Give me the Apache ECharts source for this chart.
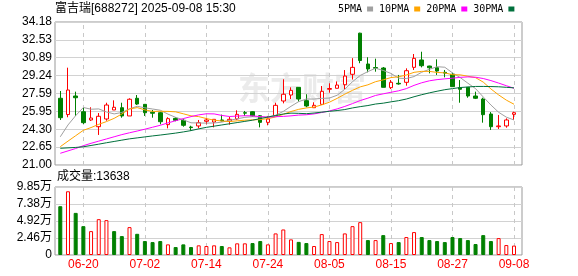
<!DOCTYPE html>
<html><head><meta charset="utf-8">
<script src="https://cdn.jsdelivr.net/npm/echarts@6/dist/echarts.min.js"></script>
<style>html,body{margin:0;padding:0;background:#fff}#c{width:578px;height:276px}</style>
</head><body><div id="c"></div>
<script>
const dates = ['06-17','06-18','06-19','06-20','06-23','06-24','06-25','06-26','06-27','06-30',
 '07-01','07-02','07-03','07-04','07-07','07-08','07-09','07-10','07-11','07-14',
 '07-15','07-16','07-17','07-18','07-21','07-22','07-23','07-24','07-25','07-28',
 '07-29','07-30','07-31','08-01','08-04','08-05','08-06','08-07','08-08','08-11',
 '08-12','08-13','08-14','08-15','08-18','08-19','08-20','08-21','08-22','08-25',
 '08-26','08-27','08-28','08-29','09-01','09-02','09-03','09-04','09-05','09-08'];
const opens = [27.15,25.65,27.36,25.91,25.15,24.53,25.24,26.07,26.28,25.52,
 27.15,26.59,25.86,25.82,24.72,25.30,25.12,24.50,24.60,25.03,
 24.96,25.15,25.03,25.24,25.82,25.91,25.54,24.93,25.54,26.90,
 27.45,28.16,26.93,26.28,26.59,27.98,28.07,28.40,29.36,33.15,
 30.31,29.98,29.94,28.13,28.53,28.62,30.00,30.68,30.12,29.97,
 29.54,29.36,28.13,28.16,27.36,27.08,25.70,24.53,24.60,25.67];
const closes = [25.36,27.91,27.20,24.90,25.33,25.49,26.53,26.32,25.52,27.06,
 26.62,25.82,25.77,24.99,25.27,25.12,24.66,24.45,24.90,25.15,
 25.21,25.06,25.21,25.67,25.78,25.52,24.93,25.24,26.50,27.52,
 27.88,27.08,26.44,26.50,27.79,28.05,28.37,29.20,30.00,30.63,
 29.85,29.92,28.16,28.62,28.47,29.69,30.83,30.15,29.96,29.66,
 29.47,28.22,27.98,27.36,27.15,25.64,24.53,24.60,25.15,25.82];
const lows = [25.15,25.40,25.52,24.78,25.06,23.77,25.08,26.07,25.36,25.52,
 26.53,25.52,25.36,24.75,24.38,25.03,24.53,24.16,24.38,24.75,
 24.47,25.03,24.72,25.15,25.52,25.45,24.47,24.66,25.54,26.68,
 27.08,26.84,26.32,26.28,26.59,27.67,28.07,28.00,28.88,30.38,
 29.54,29.60,28.16,28.00,28.40,28.31,29.76,30.00,29.45,29.30,
 29.08,28.22,26.74,27.20,27.08,24.90,24.23,24.32,24.44,25.15];
const highs = [27.82,29.97,27.76,26.28,26.32,25.79,26.74,26.96,26.74,27.15,
 27.45,26.59,26.07,25.91,25.40,25.40,25.27,24.62,25.15,25.36,
 25.21,25.64,25.45,26.04,25.98,25.95,25.60,25.52,26.74,28.90,
 28.16,28.19,27.52,26.78,28.28,28.53,28.70,29.75,30.85,33.19,
 30.93,30.80,30.03,28.83,29.30,29.91,31.23,31.44,30.15,30.74,
 29.76,29.51,28.83,28.16,27.76,27.20,25.88,25.61,25.30,25.91];
const volumes = [70700,92300,61000,41800,34600,51900,50500,34600,27400,40400,
 30700,20200,18700,20200,15400,11500,15400,11500,14000,13000,
 14000,13000,11100,16900,16900,17300,20200,15400,31300,37000,
 22600,19000,17300,13000,30300,20200,18700,31300,41800,47600,
 21600,21600,28800,17300,18700,26000,33200,26000,21600,20200,
 18700,26000,24500,21600,15900,28800,20200,24500,14400,13638];
const prevCloseBefore = 26.50;
const ma5 = [23.60,24.69,25.55,26.30,26.14,26.17,25.89,25.71,25.84,26.18,
 26.41,26.27,26.16,26.05,25.69,25.39,25.16,24.89,24.87,24.86,
 24.87,24.95,25.11,25.26,25.39,25.45,25.42,25.43,25.59,25.94,
 26.41,26.84,27.08,27.08,27.14,27.17,27.43,27.98,28.68,29.25,
 29.61,29.92,29.71,29.44,29.00,28.97,29.15,29.55,29.82,30.06,
 30.01,29.49,29.06,28.54,28.04,27.27,26.53,25.86,25.41,25.15];
const ma10 = [22.69,23.20,23.70,24.20,24.45,24.75,25.00,25.30,25.70,26.16,
 26.29,26.08,25.94,25.95,25.94,25.90,25.72,25.53,25.46,25.28,
 25.13,25.06,25.00,25.07,25.13,25.16,25.19,25.27,25.43,25.67,
 25.93,26.13,26.26,26.34,26.54,26.79,27.14,27.53,27.88,28.20,
 28.39,28.68,28.85,29.06,29.13,29.29,29.54,29.63,29.63,29.53,
 29.49,29.32,29.31,29.18,29.05,28.64,28.01,27.46,26.98,26.60];
const ma20 = [22.08,22.30,22.52,22.78,23.00,23.20,23.40,23.60,23.80,23.97,
 24.13,24.30,24.48,24.66,24.88,25.08,25.28,25.46,25.62,25.72,
 25.71,25.57,25.47,25.51,25.54,25.53,25.46,25.40,25.45,25.48,
 25.53,25.60,25.63,25.71,25.84,25.98,26.17,26.40,26.66,26.94,
 27.16,27.41,27.56,27.70,27.84,28.04,28.34,28.58,28.76,28.87,
 28.94,29.00,29.08,29.12,29.09,28.97,28.78,28.55,28.31,28.07];
const ma30 = [22.54,22.58,22.62,22.68,22.80,22.92,23.05,23.17,23.29,23.41,
 23.50,23.59,23.68,23.76,23.85,23.94,24.05,24.17,24.33,24.47,
 24.58,24.69,24.80,24.91,25.02,25.13,25.28,25.42,25.56,25.70,
 25.78,25.76,25.73,25.79,25.87,25.95,26.02,26.11,26.26,26.38,
 26.48,26.62,26.70,26.82,26.93,27.08,27.29,27.48,27.65,27.80,
 27.94,28.04,28.14,28.19,28.24,28.24,28.23,28.21,28.16,28.11];
const priceTicks = ['21.00','22.65','24.30','25.95','27.59','29.24','30.89','32.53','34.18'];
const volTicks = ['0','2.46万','4.92万','7.38万','9.85万'];
const labelDates = ['06-20','07-02','07-14','07-24','08-05','08-15','08-27','09-08'];
const maNames = ['5PMA','10PMA','20PMA','30PMA'];
const maColors = ['#a0a0a0','#ffa500','#ff00ff','#00703c'];
const titleText = '富吉瑞[688272] 2025-09-08 15:30';
const volLabel = '成交量';
const watermark = '东方财富';

const FONT = '"Liberation Sans", Arial, "Noto Sans CJK SC", sans-serif';
const UP = '#ff0000', DOWN = '#008000';
const pMin = parseFloat(priceTicks[0]);
const pMax = parseFloat(priceTicks[priceTicks.length - 1]);
const pStep = (pMax - pMin) / (priceTicks.length - 1);
const vMax = parseFloat(volTicks[volTicks.length - 1]) * 10000;
const vStep = vMax / (volTicks.length - 1);

const chart = echarts.init(document.getElementById('c'), null, {renderer: 'canvas'});
const maSeries = [ma5, ma10, ma20, ma30].map((arr, k) => ({
  name: maNames[k], type: 'line', xAxisIndex: 1, yAxisIndex: 1, data: arr,
  showSymbol: false, symbol: 'none', color: maColors[k],
  lineStyle: {width: 1, color: maColors[k]}, z: 3, silent: true
}));
const vLines = {
  symbol: ['none', 'none'], silent: true, z: 1, label: {show: false},
  lineStyle: {type: [4, 4], color: '#c8c8c8', width: 1},
  data: labelDates.map(d => ({xAxis: d}))
};
const option = {
  animation: false,
  backgroundColor: '#fff',
  title: [
    {text: titleText, left: 55, top: 3, padding: 0,
     textStyle: {fontSize: 12, fontWeight: 'normal', color: '#000', fontFamily: FONT}},
    {text: volLabel + ':' + volumes[volumes.length - 1], left: 57, top: 171, padding: 0,
     textStyle: {fontSize: 12, fontWeight: 'normal', color: '#000', fontFamily: FONT}}
  ],
  legend: {
    data: maNames, left: 338, top: 4, padding: 0, align: 'right', icon: 'rect',
    itemWidth: 6, itemHeight: 5, itemGap: 6, selectedMode: false,
    textStyle: {fontSize: 10, fontFamily: '"DejaVu Sans Mono", monospace', color: '#000'}
  },
  graphic: [{
    type: 'text', left: 238, top: 72, z: -1, silent: true,
    style: {text: watermark, fontSize: 32, fontWeight: 'bold', fill: '#ebebeb',
            fontFamily: '"Noto Sans CJK SC", sans-serif'}
  }],
  grid: [
    {left: 55, top: 22, width: 467, height: 143, show: true, borderColor: '#999', borderWidth: 1},
    {left: 56.45, top: 22, width: 461.4, height: 143},
    {left: 55, top: 187, width: 467, height: 68, show: true, borderColor: '#999', borderWidth: 1},
    {left: 56.45, top: 187, width: 461.4, height: 68}
  ],
  xAxis: [
    {type: 'value', gridIndex: 0, min: 0, max: 1, show: false},
    {type: 'category', gridIndex: 1, data: dates, boundaryGap: true,
     axisLine: {show: false}, axisTick: {show: false}, axisLabel: {show: false}, splitLine: {show: false}},
    {type: 'value', gridIndex: 2, min: 0, max: 1, show: false},
    {type: 'category', gridIndex: 3, data: dates, boundaryGap: true,
     axisLine: {show: false}, axisTick: {show: false}, splitLine: {show: false},
     axisLabel: {interval: (i, v) => labelDates.indexOf(v) >= 0, color: '#ff0000',
                 fontSize: 12, margin: 4, fontFamily: FONT, hideOverlap: false}}
  ],
  yAxis: [
    {type: 'value', gridIndex: 0, min: pMin, max: pMax, interval: pStep, scale: true,
     axisLine: {show: false}, axisTick: {show: false},
     axisLabel: {formatter: v => priceTicks[Math.round((v - pMin) / pStep)], color: '#000',
                 fontSize: 12, margin: 3, fontFamily: FONT},
     splitLine: {show: true, lineStyle: {color: '#d2d2d2', width: 1}}},
    {type: 'value', gridIndex: 1, min: pMin, max: pMax, show: false, scale: true},
    {type: 'value', gridIndex: 2, min: 0, max: vMax, interval: vStep,
     axisLine: {show: false}, axisTick: {show: false},
     axisLabel: {formatter: v => volTicks[Math.round(v / vStep)], color: '#000',
                 fontSize: 12, margin: 3, fontFamily: FONT},
     splitLine: {show: true, lineStyle: {color: '#d2d2d2', width: 1}}},
    {type: 'value', gridIndex: 3, min: 0, max: vMax, show: false}
  ],
  series: [
    {type: 'candlestick', name: 'K', xAxisIndex: 1, yAxisIndex: 1, barWidth: 4, z: 2,
     data: dates.map((d, i) => [opens[i], closes[i], lows[i], highs[i]]),
     itemStyle: {color: '#ffffff', color0: DOWN, borderColor: UP, borderColor0: DOWN, borderWidth: 1},
     markLine: vLines},
    ...maSeries,
    {type: 'bar', name: 'VOL', xAxisIndex: 3, yAxisIndex: 3, barWidth: 4, z: 2,
     data: volumes.map((v, i) => {
       const pc = i === 0 ? prevCloseBefore : closes[i - 1];
       const up = closes[i] > pc;
       return {value: v, itemStyle: up
         ? {color: '#ffffff', borderColor: UP, borderWidth: 1}
         : {color: DOWN, borderColor: DOWN, borderWidth: 1}};
     }),
     markLine: vLines}
  ]
};
chart.setOption(option);
</script></body></html>
